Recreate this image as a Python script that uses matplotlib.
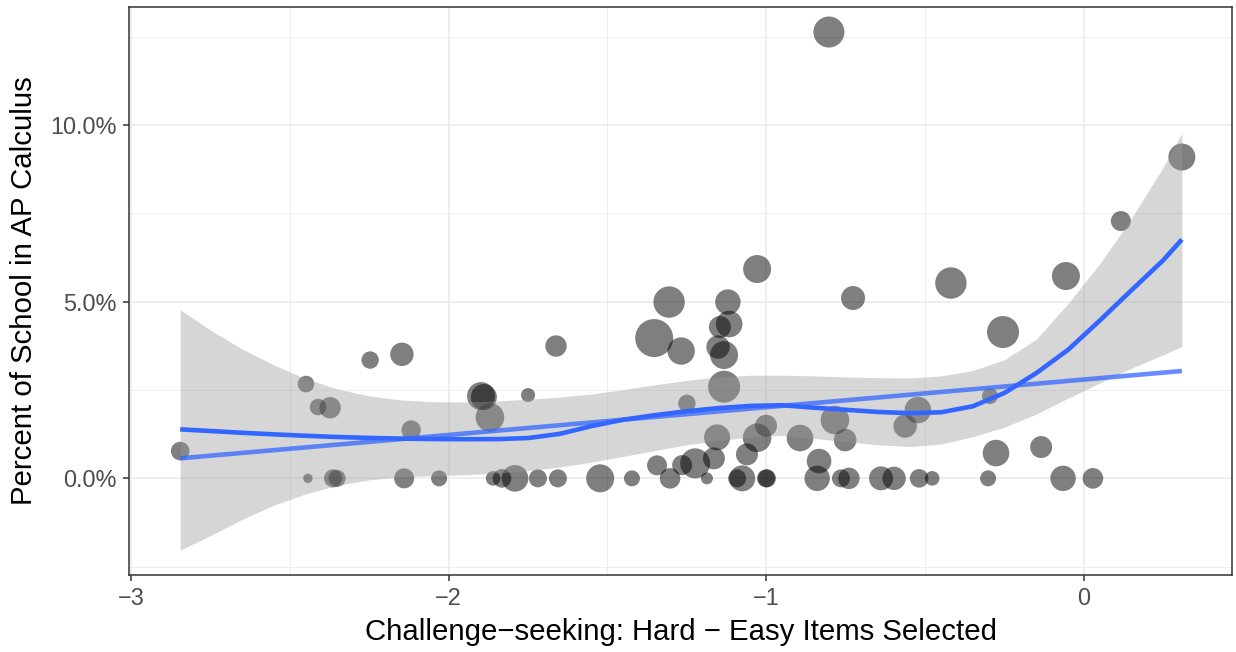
import numpy as np
import matplotlib
matplotlib.use("Agg")
import matplotlib.pyplot as plt
from matplotlib.ticker import FixedLocator, FuncFormatter

plt.rcParams["font.family"] = ["Liberation Sans", "DejaVu Sans"]

# School-level data: challenge-seeking score, % of school in AP Calculus, school size
challenge = [
    -2.845, -2.449, -2.443, -2.411, -2.373, -2.364, -2.351, -2.247, -2.147, -2.140,
    -2.118, -2.030, -1.898, -1.889, -1.870, -1.860, -1.832, -1.791, -1.750, -1.719,
    -1.662, -1.656, -1.523, -1.423, -1.353, -1.344, -1.306, -1.303, -1.268, -1.265,
    -1.250, -1.224, -1.187, -1.165, -1.155, -1.152, -1.146, -1.133, -1.133, -1.121,
    -1.117, -1.092, -1.076, -1.061, -1.029, -1.029, -1.001, -1.001, -0.998, -0.894,
    -0.840, -0.834, -0.803, -0.784, -0.765, -0.752, -0.740, -0.727, -0.639, -0.598,
    -0.563, -0.523, -0.519, -0.478, -0.419, -0.302, -0.296, -0.277, -0.255, -0.135,
    -0.066, -0.057, 0.028, 0.116, 0.308,
]
pct_ap_calc = [
    0.773, 2.669, 0.000, 2.018, 1.998, 0.000, 0.000, 3.348, 3.510, 0.000,
    1.367, 0.000, 2.329, 2.301, 1.727, 0.000, 0.000, 0.000, 2.358, 0.000,
    3.745, 0.000, 0.000, 0.000, 3.971, 0.368, 4.990, 0.000, 3.603, 0.376,
    2.123, 0.425, 0.000, 0.566, 1.160, 3.716, 4.282, 2.593, 3.490, 4.990,
    4.367, 0.000, 0.000, 0.679, 5.924, 1.149, 1.489, 0.000, 0.000, 1.141,
    0.000, 0.490, 12.632, 1.650, 0.000, 1.084, 0.000, 5.103, 0.000, 0.000,
    1.480, 1.933, 0.000, 0.000, 5.528, 0.000, 2.329, 0.716, 4.141, 0.886,
    0.000, 5.726, 0.000, 7.283, 9.094,
]
school_size = [
    9.3, 8.3, 4.7, 8.3, 10.7, 9.0, 8.5, 8.7, 11.7, 10.0,
    9.7, 8.0, 14.0, 13.0, 14.3, 7.3, 9.3, 13.3, 7.0, 9.0,
    10.7, 9.0, 14.0, 8.0, 19.0, 10.0, 15.7, 10.3, 13.7, 10.0,
    8.7, 15.0, 6.0, 11.0, 13.0, 11.7, 11.0, 16.0, 14.0, 12.7,
    13.3, 9.0, 13.0, 11.0, 14.0, 14.3, 11.0, 9.0, 9.0, 13.3,
    12.7, 12.3, 15.5, 14.3, 9.0, 11.3, 10.7, 12.0, 12.0, 11.7,
    11.7, 13.3, 9.3, 7.3, 15.7, 8.0, 8.0, 13.3, 16.0, 11.0,
    12.7, 14.0, 10.3, 10.0, 13.5,
]

# LOESS smooth with its 95% confidence band
loess_x = [-2.845, -2.75, -2.65, -2.55, -2.45, -2.35, -2.25, -2.15, -2.05, -1.95,
           -1.85, -1.75, -1.65, -1.55, -1.45, -1.35, -1.25, -1.15, -1.05, -0.95,
           -0.85, -0.75, -0.65, -0.55, -0.45, -0.35, -0.25, -0.15, -0.05, 0.05,
           0.15, 0.25, 0.308]
loess_fit = [1.387, 1.340, 1.290, 1.245, 1.205, 1.170, 1.145, 1.125, 1.113, 1.108,
             1.110, 1.140, 1.260, 1.480, 1.660, 1.790, 1.900, 1.990, 2.050, 2.070,
             2.000, 1.940, 1.880, 1.845, 1.870, 2.040, 2.420, 2.980, 3.640, 4.470,
             5.330, 6.180, 6.760]
loess_hi = [4.770, 4.200, 3.660, 3.210, 2.820, 2.530, 2.330, 2.220, 2.170, 2.160,
            2.190, 2.240, 2.300, 2.390, 2.510, 2.650, 2.770, 2.870, 2.920, 2.920,
            2.900, 2.870, 2.850, 2.840, 2.900, 3.050, 3.360, 3.940, 4.950, 6.080,
            7.370, 8.820, 9.765]
loess_lo = [-2.030, -1.620, -1.160, -0.760, -0.440, -0.200, -0.040, 0.040, 0.080, 0.100,
            0.150, 0.220, 0.320, 0.460, 0.620, 0.790, 0.950, 1.070, 1.170, 1.220,
            1.130, 1.040, 0.950, 0.900, 0.970, 1.180, 1.450, 1.820, 2.270, 2.700,
            3.120, 3.500, 3.736]

x_ticks = [-3, -2, -1, 0]
y_ticks = [0, 5, 10]
x_minor = [-2.5, -1.5, -0.5]
y_minor = [-2.5, 2.5, 7.5, 12.5]

x = np.array(challenge)
y = np.array(pct_ap_calc)
sz = np.array(school_size)

fig = plt.figure(figsize=(12.36, 6.52), dpi=100)
ax = fig.add_axes([0.104, 0.118, 0.8928, 0.8717])

ax.set_xlim(-3.0075, 0.4659)
ax.set_ylim(-2.737, 13.348)

# points
ax.scatter(x, y, s=(1.44 * sz) ** 2, color="black", alpha=0.5, linewidths=0, zorder=3)

# loess band and line
ax.fill_between(loess_x, loess_lo, loess_hi, color="#999999", alpha=0.4, linewidth=0, zorder=4)
ax.plot(loess_x, loess_fit, color="#3366FF", lw=3.3, zorder=5,
        solid_capstyle="butt", solid_joinstyle="round")

# linear fit
slope, intercept = np.polyfit(x, y, 1)
lx = np.array([x.min(), x.max()])
ax.plot(lx, intercept + slope * lx, color="#3366FF", lw=3.3, alpha=0.75, zorder=6,
        solid_capstyle="butt")

# axes styling
ax.xaxis.set_major_locator(FixedLocator(x_ticks))
ax.yaxis.set_major_locator(FixedLocator(y_ticks))
ax.xaxis.set_minor_locator(FixedLocator(x_minor))
ax.yaxis.set_minor_locator(FixedLocator(y_minor))
ax.xaxis.set_major_formatter(FuncFormatter(lambda v, p: f"{v:.0f}".replace("-", "\u2212")))
ax.yaxis.set_major_formatter(FuncFormatter(lambda v, p: f"{v:.1f}%"))

ax.grid(which="major", color="#EBEBEB", lw=1.2, zorder=0)
ax.grid(which="minor", color="#EBEBEB", lw=0.6, zorder=0)
ax.set_axisbelow(True)

for sp in ax.spines.values():
    sp.set_color("#333333")
    sp.set_linewidth(1.1)

ax.tick_params(which="major", length=4.0, width=1.1, color="#333333",
               labelcolor="#4D4D4D", labelsize=16.9)
ax.tick_params(axis="x", which="major", pad=4.5)
ax.tick_params(axis="y", which="major", pad=4.3)
ax.tick_params(which="minor", length=0)

fig.text(0.551, 0.0184, "Challenge\u2212seeking: Hard \u2212 Easy Items Selected",
         ha="center", va="baseline", fontsize=21.2, color="black")
fig.text(0.0195, 0.554, "Percent of School in AP Calculus", rotation=90,
         ha="center", va="center", fontsize=21.2, color="black")

fig.savefig("out.png", dpi=100, facecolor="white")
